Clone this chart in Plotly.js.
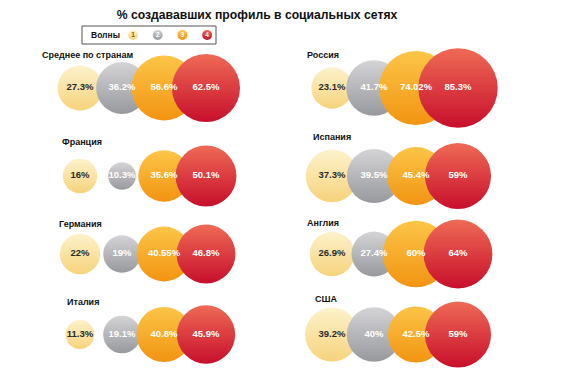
<!DOCTYPE html>
<html>
<head>
<meta charset="utf-8">
<script src="https://cdn.plot.ly/plotly-3.0.1.min.js"></script>
<style>html,body{margin:0;padding:0;background:#fff;}#chart{width:570px;height:373px;}</style>
</head>
<body>
<div id="chart"></div>
<script>
// ---- Data ----
const countries = ['Среднее по странам', 'Россия', 'Франция', 'Испания', 'Германия', 'Англия', 'Италия', 'США'];
const waves = ['1', '2', '3', '4'];
const wave1 = [27.3, 23.1, 16, 37.3, 22, 26.9, 11.3, 39.2];
const wave2 = [36.2, 41.7, 10.3, 39.5, 19, 27.4, 19.1, 40];
const wave3 = [56.6, 74.02, 35.6, 45.4, 40.55, 60, 40.8, 42.5];
const wave4 = [62.5, 85.3, 50.1, 59, 46.8, 64, 45.9, 59];
const chartTitle = '% создававших профиль в социальных сетях';
const legendTitle = 'Волны';

// ---- Styles ----
const W = 570, H = 373;
const topColors = ['#fdf2cc', '#d4d4d7', '#fcc547', '#ee6a55'];
const bottomColors = ['#f6d37c', '#98999d', '#f29412', '#c80f2c'];
const textColors = ['#2a2a2a', '#ffffff', '#ffffff', '#ffffff'];
const FONT = 'Liberation Sans, Arial, sans-serif';

// panel layout (pixels): column left edges, row centres, label positions
const colDomains = [[17, 269], [269, 521]];
const rowCenters = [88, 176, 254, 336];
const labelPos = [[40, 55], [305, 55], [60, 142], [311, 137], [57, 224], [305, 223], [65, 302], [313, 299]];

const traces = [];
const layout = {
  width: W, height: H,
  margin: {l: 0, r: 0, t: 0, b: 0},
  paper_bgcolor: '#ffffff', plot_bgcolor: 'rgba(0,0,0,0)',
  showlegend: false,
  title: {text: chartTitle, x: 257 / W, xanchor: 'center', y: 1 - 15 / H, yanchor: 'middle',
          font: {family: FONT, size: 12.2, weight: 'bold', color: '#111'}},
  annotations: [], shapes: []
};

countries.forEach((name, i) => {
  const col = i % 2, row = Math.floor(i / 2);
  const n = i + 1;
  const vals = [wave1[i], wave2[i], wave3[i], wave4[i]];
  const xs = waves.map(w => Number(w));
  traces.push({
    type: 'scatter', mode: 'markers+text',
    x: xs, y: xs.map(() => 0),
    xaxis: 'x' + n, yaxis: 'y' + n,
    cliponaxis: false,
    text: vals.map(v => v + '%'),
    textposition: 'middle center',
    textfont: {family: FONT, size: 9.5, weight: 'bold', color: textColors},
    marker: {
      size: vals, sizemode: 'area', sizeref: 0.027,
      opacity: 1,
      color: topColors,
      gradient: {type: 'vertical', color: bottomColors},
      line: {width: 0}
    },
    hoverinfo: 'skip'
  });
  const d = colDomains[col];
  const c = rowCenters[row];
  layout['xaxis' + n] = {domain: [d[0] / W, d[1] / W], range: [-0.5, 5.5], visible: false, fixedrange: true, anchor: 'y' + n};
  layout['yaxis' + n] = {domain: [(H - c - 40) / H, (H - c + 40) / H], range: [-1, 1], visible: false, fixedrange: true, anchor: 'x' + n};
  layout.annotations.push({
    text: name, xref: 'paper', yref: 'paper',
    x: labelPos[i][0] / W, y: 1 - labelPos[i][1] / H,
    xanchor: 'left', yanchor: 'middle', showarrow: false,
    font: {family: FONT, size: 9, weight: 'bold', color: '#111'}
  });
});

// legend as a small bubble row
traces.push({
  type: 'scatter', mode: 'markers+text',
  x: waves.map(w => Number(w)), y: waves.map(() => 0),
  xaxis: 'x9', yaxis: 'y9', cliponaxis: false,
  text: waves,
  textposition: 'middle center',
  textfont: {family: FONT, size: 6.5, weight: 'bold', color: ['#7a5a00', '#ffffff', '#ffffff', '#ffffff']},
  marker: {size: 10, opacity: 1, color: topColors, gradient: {type: 'vertical', color: bottomColors}, line: {width: 0}},
  hoverinfo: 'skip'
});
layout.xaxis9 = {domain: [108.3 / W, 231.8 / W], range: [0, 5], visible: false, fixedrange: true, anchor: 'y9'};
layout.yaxis9 = {domain: [(H - 45) / H, (H - 25) / H], range: [-1, 1], visible: false, fixedrange: true, anchor: 'x9'};
layout.shapes.push({type: 'rect', xref: 'paper', yref: 'paper',
  x0: 82 / W, x1: 216 / W, y0: 1 - 44 / H, y1: 1 - 26 / H,
  line: {color: '#555', width: 1}, fillcolor: 'rgba(0,0,0,0)'});
layout.annotations.push({text: legendTitle, xref: 'paper', yref: 'paper', x: 89 / W, y: 1 - 35 / H,
  xanchor: 'left', yanchor: 'middle', showarrow: false,
  font: {family: FONT, size: 8.5, weight: 'bold', color: '#111'}});

Plotly.newPlot('chart', traces, layout, {displayModeBar: false, staticPlot: true});
</script>
</body>
</html>
